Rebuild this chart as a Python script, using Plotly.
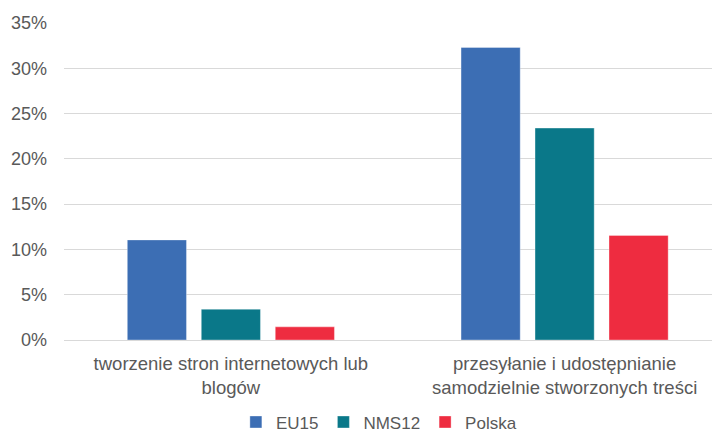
import plotly.graph_objects as go

categories = ["tworzenie stron internetowych lub<br>blogów",
              "przesyłanie i udostępnianie<br>samodzielnie stworzonych treści"]
series_names = ["EU15", "NMS12", "Polska"]
eu15 = [11.05, 32.3]
nms12 = [3.4, 23.4]
polska = [1.45, 11.55]
colors = ["#3C6EB4", "#0A7889", "#EE2C40"]
y_ticks = [0, 5, 10, 15, 20, 25, 30, 35]
y_tick_labels = ["0%", "5%", "10%", "15%", "20%", "25%", "30%", "35%"]

fig = go.Figure()
for name, vals, col in zip(series_names, [eu15, nms12, polska], colors):
    fig.add_trace(go.Bar(name=name, x=categories, y=vals,
                         marker=dict(color=col, line=dict(color="rgba(255,255,255,0.35)", width=1))))

fig.update_layout(
    width=712, height=432,
    margin=dict(l=55.5, r=0, t=15, b=99.7, autoexpand=False),
    paper_bgcolor="white", plot_bgcolor="white",
    font=dict(family="Liberation Sans, Arial, sans-serif", size=18, color="#595959"),
    barmode="group", bargap=0.335, bargroupgap=0.2,
    showlegend=True,
    legend=dict(orientation="h", x=0.48, xanchor="center", y=-0.26, yanchor="middle",
                font=dict(size=17, color="#595959"), itemwidth=30, traceorder="normal",
                tracegroupgap=0),
    xaxis=dict(range=[-0.5, 1.4656], showgrid=False, showline=False, ticks="",
               ticklabelstandoff=10, tickfont=dict(size=18.5, color="#595959")),
    yaxis=dict(range=[0, 35], tickmode="array", tickvals=y_ticks, ticktext=y_tick_labels,
               showgrid=True, gridcolor="#D9D9D9", gridwidth=1, zeroline=True,
               zerolinecolor="#D9D9D9", zerolinewidth=1, showline=False, ticks="",
               ticklabelstandoff=16, tickfont=dict(size=18, color="#595959")),
)
fig.write_html("out.html")
